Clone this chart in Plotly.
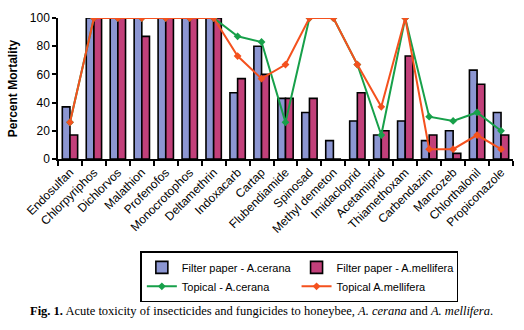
import plotly.graph_objects as go

categories = ["Endosulfan", "Chlorpyriphos", "Dichlorvos", "Malathion", "Profenofos",
              "Monocrotophos", "Deltamethrin", "Indoxacarb", "Cartap", "Flubendiamide",
              "Spinosad", "Methyl demeton", "Imidacloprid", "Acetamiprid", "Thiamethoxam",
              "Carbendazim", "Mancozeb", "Chlorthalonil", "Propiconazole"]

filter_cerana = [37, 100, 100, 100, 100, 100, 100, 47, 80, 43, 33, 13, 27, 17, 27, 13, 20, 63, 33]
filter_mellifera = [17, 100, 100, 87, 100, 100, 100, 57, 60, 43, 43, 0, 47, 20, 73, 17, 4, 53, 17]
topical_cerana = [26, 100, 100, 100, 100, 100, 100, 87, 83, 26, 100, 100, 67, 17, 100, 30, 27, 33, 20]
topical_mellifera = [26, 100, 100, 100, 100, 100, 100, 73, 57, 67, 100, 100, 67, 37, 100, 7, 7, 17, 7]

y_ticks = [0, 20, 40, 60, 80, 100]

FONT = "Liberation Sans, Arial, sans-serif"

fig = go.Figure()
fig.add_trace(go.Bar(x=categories, y=filter_cerana, name="Filter paper - A.cerana",
                     marker=dict(color="#8c96d2", line=dict(color="black", width=1.6))))
fig.add_trace(go.Bar(x=categories, y=filter_mellifera, name="Filter paper - A.mellifera",
                     marker=dict(color="#c2407a", line=dict(color="black", width=1.6))))
fig.add_trace(go.Scatter(x=categories, y=topical_cerana, name="Topical - A.cerana",
                         mode="lines+markers", line=dict(color="#17a04a", width=2),
                         marker=dict(symbol="diamond", size=6, color="#17a04a")))
fig.add_trace(go.Scatter(x=categories, y=topical_mellifera, name="Topical A.mellifera",
                         mode="lines+markers", line=dict(color="#f4511e", width=2),
                         marker=dict(symbol="diamond", size=6, color="#f4511e")))

fig.update_layout(
    width=524, height=330,
    margin=dict(l=58, r=11, t=11, b=171),
    paper_bgcolor="white", plot_bgcolor="white",
    barmode="group", bargap=0.36, bargroupgap=0,
    font=dict(family=FONT, size=12, color="black"),
    showlegend=True,
    legend=dict(orientation="h", x=0.181, xanchor="left", y=-0.655, yanchor="top",
                bordercolor="black", borderwidth=1.5, bgcolor="white",
                font=dict(size=11, family=FONT), entrywidthmode="fraction", entrywidth=0.34,
                itemwidth=30, traceorder="normal"),
    annotations=[dict(
        text="<b>Fig. 1.</b> Acute toxicity of insecticides and fungicides to honeybee, "
             "<i>A. cerana</i> and <i>A. mellifera</i>.",
        xref="paper", yref="paper", x=0.447, y=-1.075, xanchor="center", yanchor="middle",
        showarrow=False, font=dict(family="Liberation Serif, Times New Roman, serif", size=12.5))],
)
fig.update_xaxes(range=[-0.5, len(categories) - 0.5], tickangle=-45, ticks="outside",
                 tickson="boundaries", ticklen=5, tickwidth=1.5, tickcolor="black",
                 showline=True, linecolor="black", linewidth=1.5, showgrid=False,
                 tickfont=dict(size=12))
fig.update_yaxes(range=[0, 100], tickvals=y_ticks, ticks="outside", ticklen=4, tickwidth=1.5,
                 tickcolor="black", showline=True, linecolor="black", linewidth=1.5,
                 showgrid=False, zeroline=False, tickfont=dict(size=12),
                 title=dict(text="<b>Percent Mortality</b>", font=dict(size=12), standoff=10))

fig.write_html("out.html")
